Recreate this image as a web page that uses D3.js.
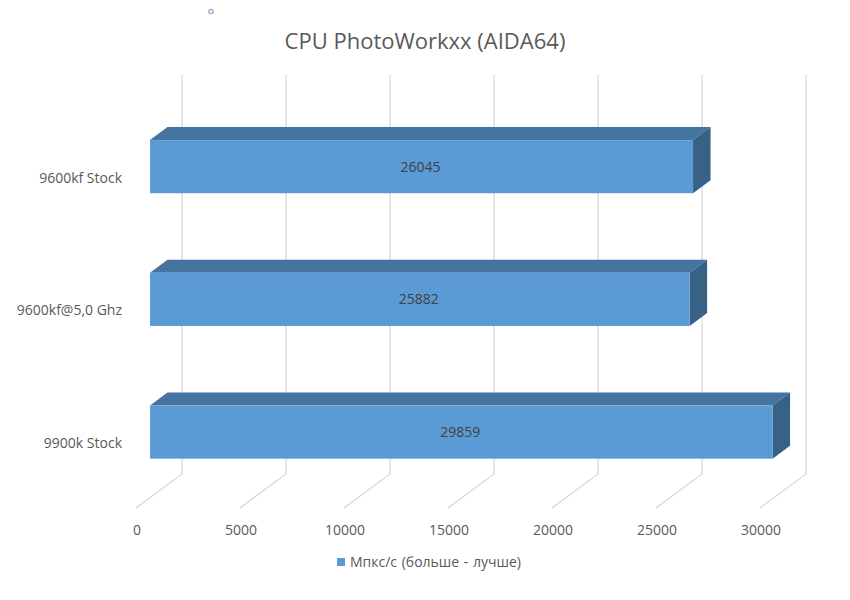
<!DOCTYPE html>
<html><head><meta charset="utf-8">
<script src="https://cdn.jsdelivr.net/npm/d3@7"></script>
<style>html,body{margin:0;background:#fff}svg{display:block}text{font-family:"Open Sans",sans-serif}</style>
</head><body><svg id="c" width="850" height="600"></svg>
<script>
const categories = ["9600kf Stock", "9600kf@5,0 Ghz", "9900k Stock"];
const values = [26045, 25882, 29859];
const ticks = [0, 5000, 10000, 15000, 20000, 25000, 30000];
const title = "CPU PhotoWorkxx (AIDA64)";
const legendLabel = "Мпкс/с (больше - лучше)";

const svg = d3.select("#c");
const x = d3.scaleLinear().domain([0, 30000]).range([150, 775.5]);
const wallX = d3.scaleLinear().domain([0, 30000]).range([182, 806]);
const floorX = d3.scaleLinear().domain([0, 30000]).range([136, 760]);
const y = d3.scaleBand().domain(categories).range([100.3, 498.5]).paddingInner(0.6).paddingOuter(0.3);
const dx = 17.5, dy = -13;
const line = d3.line();

svg.append("circle").attr("cx", 211).attr("cy", 11.5).attr("r", 2.2).attr("fill", "#fff").attr("stroke", "#a9a4c6").attr("stroke-width", 1.3);

svg.append("text").attr("x", 425).attr("y", 49).attr("text-anchor", "middle").attr("font-size", 22).attr("fill", "#595959").text(title);

svg.append("g").selectAll("path").data(ticks).join("path")
  .attr("fill", "none").attr("stroke", "#d9d9d9").attr("stroke-width", 1.3)
  .attr("d", d => line([[wallX(d), 75], [wallX(d), 474], [floorX(d), 508]]));

const bars = svg.append("g").selectAll("g").data(values).join("g");
const yOf = (d, i) => y(categories[i]);
bars.append("path").attr("fill", "#44749f")
  .attr("d", (d, i) => { const t = yOf(d, i); return line([[x(0), t], [x(0) + dx, t + dy], [x(d) + dx, t + dy], [x(d), t]]) + "Z"; });
bars.append("path").attr("fill", "#386186")
  .attr("d", (d, i) => { const t = yOf(d, i), b = t + y.bandwidth(); return line([[x(d), t], [x(d) + dx, t + dy], [x(d) + dx, b + dy], [x(d), b]]) + "Z"; });
bars.append("rect").attr("fill", "#5b9bd5")
  .attr("x", x(0)).attr("y", yOf).attr("width", d => x(d) - x(0)).attr("height", y.bandwidth());
bars.append("text").attr("text-anchor", "middle").attr("font-size", 14).attr("fill", "#404040")
  .attr("x", d => (x(0) + x(d)) / 2 - 1)
  .attr("y", (d, i) => yOf(d, i) + y.bandwidth() / 2 + 5)
  .text(d => d);

svg.append("g").selectAll("text").data(categories).join("text")
  .attr("x", 122).attr("y", d => y(d) + y.bandwidth() / 2 + 16)
  .attr("text-anchor", "end").attr("font-size", 14).attr("fill", "#595959").text(d => d);

svg.append("g").selectAll("text").data(ticks).join("text")
  .attr("x", d => floorX(d) + 1).attr("y", 535).attr("text-anchor", "middle").attr("font-size", 14).attr("fill", "#595959").text(d => d);

svg.append("rect").attr("x", 337).attr("y", 558).attr("width", 8).attr("height", 8).attr("fill", "#5b9bd5");
svg.append("text").attr("x", 350).attr("y", 567).attr("font-size", 14).attr("word-spacing", 1).attr("fill", "#595959").text(legendLabel);
</script></body></html>
